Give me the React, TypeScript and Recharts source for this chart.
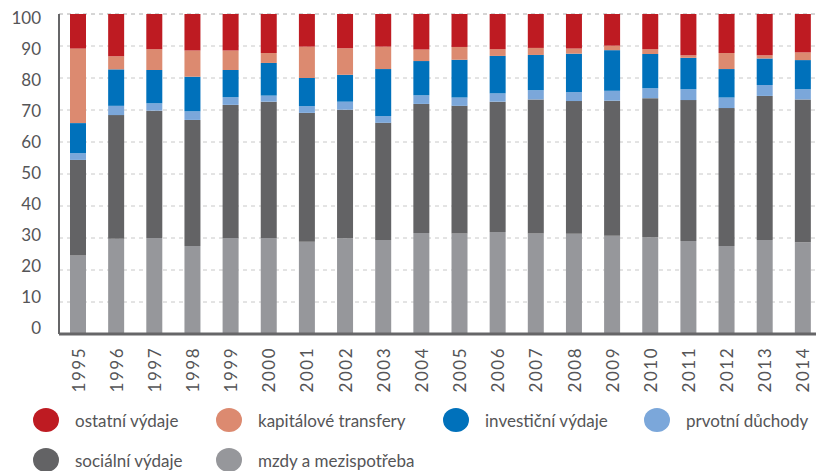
import React from "react";
import { BarChart, Bar, XAxis, YAxis, CartesianGrid } from "recharts";

const years = ["1995","1996","1997","1998","1999","2000","2001","2002","2003","2004","2005","2006","2007","2008","2009","2010","2011","2012","2013","2014"];
const mzdy = [24.5,29.8,30.0,27.5,30.0,30.0,28.8,29.9,29.4,31.6,31.4,31.9,31.4,31.3,30.7,30.2,29.1,27.5,29.4,28.7];
const socialni = [29.9,38.6,39.8,39.4,41.6,42.6,40.3,40.2,36.6,40.3,39.9,40.7,41.9,41.5,42.2,43.5,44.0,43.1,45.0,44.6];
const prvotni = [2.1,2.9,2.3,2.7,2.4,1.9,2.1,2.5,2.1,2.7,2.6,2.6,2.9,2.8,3.1,3.1,3.4,3.3,3.4,3.2];
const investicni = [9.4,11.4,10.4,10.8,8.5,10.2,8.8,8.4,14.7,10.7,11.8,11.7,11.0,12.0,12.7,10.7,9.8,8.9,8.3,9.1];
const kapitalove = [23.3,4.1,6.5,8.2,6.1,3.1,9.8,8.3,7.0,3.6,4.0,2.1,2.2,1.6,1.4,1.5,0.8,5.0,1.0,2.4];
const ostatni = [10.8,13.2,11.0,11.4,11.4,12.2,10.2,10.7,10.2,11.1,10.3,11.0,10.6,10.8,9.9,11.0,12.9,12.2,12.9,12.0];
const yTicks = [0,10,20,30,40,50,60,70,80,90,100];

const series = [
  { key: "mzdy", name: "mzdy a mezispotřeba", color: "#96979b" },
  { key: "socialni", name: "sociální výdaje", color: "#636365" },
  { key: "prvotni", name: "prvotní důchody", color: "#7ba7da" },
  { key: "investicni", name: "investiční výdaje", color: "#0071bb" },
  { key: "kapitalove", name: "kapitálové transfery", color: "#dc8a70" },
  { key: "ostatni", name: "ostatní výdaje", color: "#be1b22" },
];

const data = years.map((y, i) => ({
  year: y,
  mzdy: mzdy[i],
  socialni: socialni[i],
  prvotni: prvotni[i],
  investicni: investicni[i],
  kapitalove: kapitalove[i],
  ostatni: ostatni[i],
}));

const FONT = "Lato, 'Open Sans', sans-serif";
const TXT = "#555557";

const legendRows = [
  ["ostatni", "kapitalove", "investicni", "prvotni"],
  ["socialni", "mzdy"],
];
const colLefts = [33, 216, 443, 644];

const YearTick = (props: any) => {
  const { x, y, payload } = props;
  return (
    <g transform={`translate(${x},${y})`}>
      <text transform="rotate(-90)" x={-13} y={0} textAnchor="end" dominantBaseline="central" fill={TXT} fontSize={17} letterSpacing={1.5} fontFamily={FONT}>
        {payload.value}
      </text>
    </g>
  );
};

// tick labels in the source sit on a slightly compressed ladder relative to the gridlines
const ValueTick = (props: any) => {
  const { x, y, payload } = props;
  const shift = 3.9 - (100 - payload.value) * 0.107;
  return (
    <text x={x} y={y + shift} textAnchor="end" dominantBaseline="central" fill={TXT} fontSize={17} fontFamily={FONT}>
      {payload.value}
    </text>
  );
};

export default function App() {
  return (
    <div style={{ position: "relative", width: 816, height: 471, fontFamily: FONT }}>
      <style>{"body{margin:0;}"}</style>
      <BarChart width={816} height={395} data={data} margin={{ top: 14, right: -6, bottom: 0, left: 0 }} barSize={16}>
        <CartesianGrid vertical={false} stroke="#c8c8c8" strokeDasharray="4 4" />
        <XAxis dataKey="year" height={61} tick={<YearTick />} tickLine={false} tickSize={0} tickMargin={0} axisLine={{ stroke: "#666668", strokeWidth: 3 }} interval={0} />
        <YAxis domain={[0, 100]} ticks={yTicks} width={59} tickLine={false} tickSize={0} tickMargin={18} axisLine={{ stroke: "#666668", strokeWidth: 2 }} tick={<ValueTick />} interval={0} />
        {series.map((s) => (
          <Bar key={s.key} dataKey={s.key} name={s.name} stackId="a" fill={s.color} isAnimationActive={false} />
        ))}
      </BarChart>
      {legendRows.map((row, ri) =>
        row.map((k, ci) => {
          const s = series.find((q) => q.key === k)!;
          return (
            <div key={k} style={{ position: "absolute", left: colLefts[ci], top: 408 + ri * 40, display: "flex", alignItems: "center", height: 24 }}>
              <div style={{ width: 26, height: 24, borderRadius: "50%", background: s.color }} />
              <span style={{ marginLeft: 16, fontSize: 17, color: TXT, whiteSpace: "nowrap" }}>{s.name}</span>
            </div>
          );
        })
      )}
    </div>
  );
}
